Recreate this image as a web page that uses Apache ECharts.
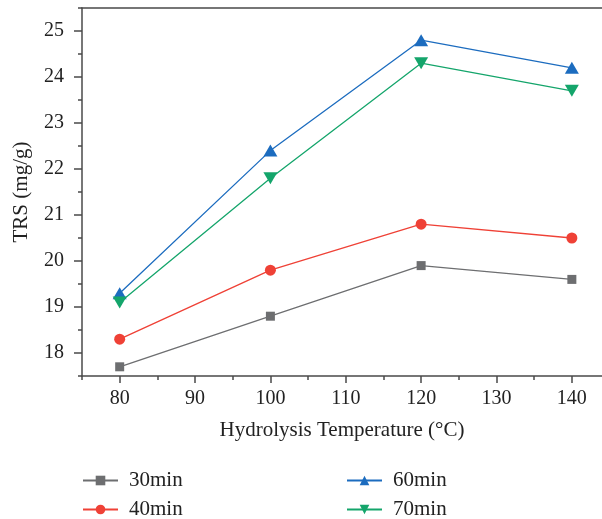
<!DOCTYPE html>
<html>
<head>
<meta charset="utf-8">
<script src="https://cdn.jsdelivr.net/npm/echarts@6/dist/echarts.min.js"></script>
<style>
  html, body { margin: 0; padding: 0; background: #fff; }
  #chart { width: 602px; height: 519px; }
</style>
</head>
<body>
<div id="chart"></div>
<script>
var temps = [80, 100, 120, 140];
var min30 = [17.7, 18.8, 19.9, 19.6];
var min40 = [18.3, 19.8, 20.8, 20.5];
var min60 = [19.3, 22.4, 24.8, 24.2];
var min70 = [19.1, 21.8, 24.3, 23.7];
var xMajor = [80, 90, 100, 110, 120, 130, 140];
var xMinor = [75, 85, 95, 105, 115, 125, 135];
var yMajor = [18, 19, 20, 21, 22, 23, 24, 25];
var yMinor = [17.5, 18.5, 19.5, 20.5, 21.5, 22.5, 23.5, 24.5, 25.5];

var font = 'Liberation Serif';
var axisCol = '#4a4a4a';
var colors = ['#6d6e70', '#ef4136', '#1c6cbf', '#14a56b'];

function pairs(vals) {
    return temps.map(function (t, i) { return [t, vals[i]]; });
}

function legendAt(name, left, top) {
    return {
        data: [name], left: left, top: top,
        itemWidth: 35, itemHeight: 12, itemGap: 0,
        textStyle: { fontFamily: font, fontSize: 21, color: '#222', padding: [0, 0, 0, 6] }
    };
}

var myChart = echarts.init(document.getElementById('chart'));
myChart.setOption({
    backgroundColor: '#fff',
    animation: false,
    grid: { left: 82, top: 8, right: 0, bottom: 143 },
    legend: [
        legendAt('30min', 77, 465),
        legendAt('40min', 77, 494),
        legendAt('60min', 341, 465),
        legendAt('70min', 341, 494)
    ],
    xAxis: [{
        type: 'value', min: 75, max: 144,
        name: 'Hydrolysis Temperature (°C)', nameLocation: 'middle', nameGap: 44,
        nameTextStyle: { fontFamily: font, fontSize: 21, color: '#222' },
        axisLine: { lineStyle: { color: axisCol, width: 1.5 } },
        axisTick: { customValues: xMajor, length: 7, lineStyle: { color: axisCol, width: 1.5 } },
        axisLabel: { customValues: xMajor, fontFamily: font, fontSize: 20, color: '#222', margin: 13 },
        splitLine: { show: false }
    }, {
        type: 'value', min: 75, max: 144, position: 'bottom',
        axisLine: { show: false },
        axisTick: { customValues: xMinor, length: 4, lineStyle: { color: axisCol, width: 1.5 } },
        axisLabel: { show: false },
        splitLine: { show: false }
    }, {
        type: 'value', min: 75, max: 144, position: 'top',
        axisLine: { lineStyle: { color: axisCol, width: 1.5 } },
        axisTick: { show: false },
        axisLabel: { show: false },
        splitLine: { show: false }
    }],
    yAxis: [{
        type: 'value', min: 17.5, max: 25.5,
        name: 'TRS (mg/g)', nameLocation: 'middle', nameGap: 50,
        nameTextStyle: { fontFamily: font, fontSize: 21, color: '#222' },
        axisLine: { show: true, lineStyle: { color: axisCol, width: 1.5 } },
        axisTick: { show: true, customValues: yMajor, length: 8, lineStyle: { color: axisCol, width: 1.5 } },
        axisLabel: { customValues: yMajor, fontFamily: font, fontSize: 20, color: '#222', margin: 18 },
        splitLine: { show: false }
    }, {
        type: 'value', min: 17.5, max: 25.5, position: 'left',
        axisLine: { show: false },
        axisTick: { show: true, customValues: yMinor, length: 4, lineStyle: { color: axisCol, width: 1.5 } },
        axisLabel: { show: false },
        splitLine: { show: false }
    }],
    series: [
        {
            name: '30min', type: 'line', data: pairs(min30),
            symbol: 'rect', symbolSize: 9,
            lineStyle: { color: colors[0], width: 1.3 },
            itemStyle: { color: colors[0] }
        },
        {
            name: '40min', type: 'line', data: pairs(min40),
            symbol: 'circle', symbolSize: 11,
            lineStyle: { color: colors[1], width: 1.3 },
            itemStyle: { color: colors[1] }
        },
        {
            name: '60min', type: 'line', data: pairs(min60),
            symbol: 'triangle', symbolSize: [14, 12],
            lineStyle: { color: colors[2], width: 1.3 },
            itemStyle: { color: colors[2] }
        },
        {
            name: '70min', type: 'line', data: pairs(min70),
            symbol: 'path://M0,0 L10,0 L5,9 Z', symbolSize: [14, 12],
            lineStyle: { color: colors[3], width: 1.3 },
            itemStyle: { color: colors[3] }
        }
    ]
});
</script>
</body>
</html>
